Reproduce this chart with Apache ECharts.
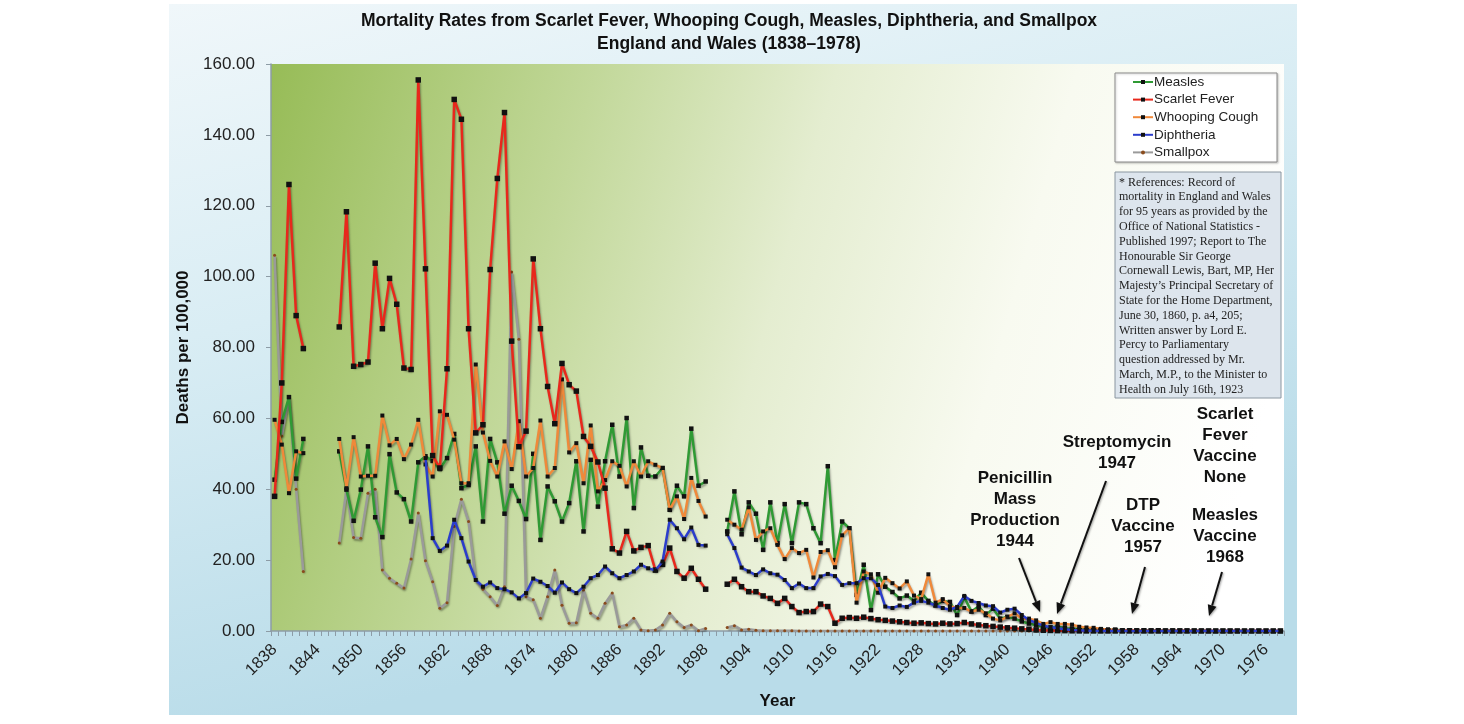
<!DOCTYPE html>
<html>
<head>
<meta charset="utf-8">
<title>Mortality Rates England and Wales</title>
<script src="https://cdn.jsdelivr.net/npm/echarts@6.0.0/dist/echarts.min.js"></script>
<style>
  html, body { margin: 0; padding: 0; background: #ffffff; }
  #chart { width: 1464px; height: 724px; }
</style>
</head>
<body>
<div id="chart"></div>
<script>
// years 1838..1978, one category per year
var years = [];
for (var y = 1838; y <= 1978; y++) years.push(String(y));

var yTicks = [0, 20, 40, 60, 80, 100, 120, 140, 160];

// deaths per 100,000 (null = no record)
var measles = [
  42.7, 59, 66, 43, 54.2,
  null, null, null, null,
  50.7, 39.9, 31.1, 39.9, 52.1, 32.1, 26.5, 49.9, 39.1, 37.2,
  30.9, 47.6, 49.3, 48, 45.7, 48.8, 55.6, 40.3, 41.2, 52.1,
  30.9, 54.2, 47.6, 33.1, 41, 36.7, 31.6, 50, 25.7, 40.8,
  36.6, 30.9, 36.1, 47.9, 28.1, 48.3, 35.1, 47.9, 58.2, 43.6,
  60.1, 34.7, 51.8, 43.8, 43.6, 46, 34.2, 41, 38, 57.1,
  41, 42.2,
  null, null,
  28.1, 39.4, 27.3, 36.3, 33.1, 22.9, 36.3, 24.8, 35.8, 24.8,
  36.3, 35.8, 29, 24.8, 46.5, 20, 30.9, 29, 10.2, 18.7,
  5.9, 16, 12.5, 11, 9.2, 10, 8.5, 10.8, 8.5, 7.2,
  8.5, 8.2, 4.5, 9.5, 5.5, 7, 4.5, 6.3, 3.5, 4,
  3.5, 2.7, 2.1, 1.6, 1.2, 1.0, 1.3, 0.8, 0.7, 0.5,
  0.6, 0.4, 0.5, 0.1, 0.4, 0.1, 0.2, 0.1, 0.2, 0.1,
  0.2, 0.05, 0.1, 0.1, 0.1, 0.05, 0.05, 0.03, 0.02, 0.02,
  0.02, 0.01, 0.01, 0.01, 0.01, 0.01, 0.01, 0.01
];

var scarletFever = [
  38, 70, 126, 89, 79.7,
  null, null, null, null,
  85.8, 118.3, 74.7, 75.2, 75.9, 103.8, 85.3, 99.5, 92.2, 74.2,
  73.8, 155.5, 102.2, 49.5, 46, 74, 150, 144.4, 85.3, 55.9,
  58.2, 102, 127.7, 146.3, 81.8, 52, 56.4, 105, 85.3, 69,
  58.5, 75.5, 69.5, 67.7, 54.9, 52.1, 47.7, 40.3, 23.2, 22,
  28.1, 22.6, 23.6, 24.1, 17.2, 18.8, 23.4, 16.8, 14.9, 17.7,
  14.6, 11.8,
  null, null,
  13.2, 14.6, 12.5, 11.1, 11.1, 9.9, 9.2, 7.8, 9.2, 6.9,
  5.2, 5.5, 5.5, 7.6, 6.9, 2.2, 3.6, 3.8, 3.6, 3.9,
  3.5, 3.2, 3.0, 2.8, 2.6, 2.4, 2.2, 2.3, 2.1, 2.0,
  2.2, 2.0, 2.1, 2.4, 2.0, 1.7, 1.5, 1.3, 1.1, 0.9,
  0.8, 0.6, 0.5, 0.3, 0.2, 0.15, 0.1, 0.1, 0.05, 0.03,
  0.02, 0.02, 0.01, 0.01, 0.01, 0.01, 0.01, 0.01, 0.01, 0.01,
  0, 0, 0, 0, 0, 0, 0, 0, 0, 0,
  0, 0, 0, 0, 0, 0, 0, 0
];

var whoopingCough = [
  59.6, 52.6, 38.9, 50.7, 50.2,
  null, null, null, null,
  54.2, 40.3, 54.7, 43.6, 43.8, 43.8, 60.8, 52.4, 54.2, 48.5,
  52.6, 59.6, 47, 43.6, 62, 61, 54, 41.7, 41.7, 75.2,
  56, 48, 43.6, 53.5, 45.7, 59.2, 43.6, 46, 59.4, 43.6,
  46, 71, 50.4, 53, 41.7, 58, 39.4, 42.6, 47.9, 46.6,
  40.8, 47.9, 43.6, 47.9, 46.9, 46, 34.2, 38, 31.6, 43.2,
  36.7, 32.3,
  null, null,
  31.4, 30, 28.6, 34.9, 25.7, 28.1, 29, 24.3, 20.3, 23.4,
  22, 22.9, 15.1, 22.3, 22.8, 18, 27, 29, 8, 16.8,
  16, 10.8, 15, 13.5, 12, 14, 10, 9, 16, 8,
  9, 7, 6.5, 6.5, 5.5, 6, 5, 3.5, 3, 4,
  5, 3.5, 3.5, 3, 2, 2.5, 2, 2, 1.8, 1.2,
  1, 0.9, 0.6, 0.5, 0.3, 0.2, 0.2, 0.2, 0.1, 0.1,
  0.1, 0.1, 0.1, 0.05, 0.05, 0.05, 0.05, 0.02, 0.02, 0.02,
  0.02, 0.02, 0.01, 0.01, 0.01, 0.01, 0.01, 0.01
];

var diphtheria = [
  null, null, null, null, null,
  null, null, null, null,
  null, null, null, null, null, null, null, null, null, null,
  null, null, 48.8, 26.2, 22.6, 24.1, 31.4, 26.2, 19.6, 14.4,
  12.5, 13.7, 12.1, 11.8, 10.9, 9.2, 10.7, 14.8, 13.9, 12.7,
  10.8, 13.7, 11.8, 10.7, 12.5, 14.9, 15.8, 18.2, 16.3, 14.9,
  15.8, 16.8, 18.7, 17.7, 17.1, 19.6, 31.4, 29, 25.9, 29.2,
  24.3, 24.1,
  null, null,
  27.3, 23.4, 17.9, 16.8, 15.8, 17.4, 16.3, 15.9, 14.4, 12.1,
  13.4, 12.1, 12.1, 15.4, 16.1, 15.5, 13, 13.5, 13.5, 14.9,
  14.9, 13, 6.9, 6.5, 7.2, 6.8, 8, 8.5, 8, 7.2,
  6.5, 6, 6.8, 9.9, 8.5, 7.9, 7.2, 7, 5.2, 6,
  6.3, 4.5, 3.1, 2.3, 1.5, 1.1, 0.8, 0.5, 0.3, 0.2,
  0.1, 0.05, 0.03, 0.02, 0.01, 0.01, 0.01, 0.01, 0.01, 0.01,
  0, 0, 0, 0, 0, 0, 0, 0, 0, 0,
  0, 0, 0, 0, 0, 0, 0, 0
];

var smallpox = [
  106, 55, 66, 40, 16.8,
  null, null, null, null,
  24.8, 39.9, 26.4, 26.2, 38.9, 40, 17.2, 14.9, 13.5, 12.1,
  20.3, 33.3, 19.8, 13.9, 6.4, 8, 29.5, 37.2, 30.9, 14.4,
  11.8, 9.7, 7.2, 12.5, 101.3, 82.3, 9.7, 8.8, 3.6, 9.7,
  17.2, 7.3, 2.2, 2.3, 11.6, 5, 3.6, 7.8, 10.7, 1.2,
  1.7, 3.6, 0.3, 0.1, 0.3, 1.7, 5, 2.6, 1, 1.7,
  0.1, 0.7,
  null, null,
  1, 1.5, 0.3, 0.5, 0.2, 0.1, 0.05, 0.05, 0.05, 0.05,
  0, 0, 0, 0, 0, 0, 0, 0, 0, 0,
  0, 0, 0, 0, 0, 0, 0, 0, 0, 0,
  0, 0, 0, 0, 0, 0, 0, 0, 0, 0,
  0, 0, 0, 0, 0, 0, 0, 0, 0, 0,
  0, 0, 0, 0, 0, 0, 0, 0, 0, 0,
  0, 0, 0, 0, 0, 0, 0, 0, 0, 0,
  0, 0, 0, 0, 0, 0, 0, 0
];

var legendNames = ['Measles', 'Scarlet Fever', 'Whooping Cough', 'Diphtheria', 'Smallpox'];

var refText = [
  '* References: Record of',
  'mortality in England and Wales',
  'for 95 years as provided by the',
  'Office of National Statistics -',
  'Published 1997; Report to The',
  'Honourable Sir George',
  'Cornewall Lewis, Bart, MP, Her',
  'Majesty\u2019s Principal Secretary of',
  'State for the Home Department,',
  'June 30, 1860, p. a4, 205;',
  'Written answer by Lord E.',
  'Percy to Parliamentary',
  'question addressed by Mr.',
  'March, M.P., to the Minister to',
  'Health on July 16th, 1923'
].join('\n');

var FONT = '"Liberation Sans", Arial, sans-serif';

function arrow(x1, y1, x2, y2) {
  var a = Math.atan2(y2 - y1, x2 - x1);
  var L = 11, W = 4.5;
  var bx = x2 - L * Math.cos(a), by = y2 - L * Math.sin(a);
  var px = -Math.sin(a) * W, py = Math.cos(a) * W;
  var sh = { shadowColor: 'rgba(0,0,0,0.35)', shadowBlur: 2, shadowOffsetX: 1, shadowOffsetY: 1 };
  return [
    { type: 'line', z: 20, shape: { x1: x1, y1: y1, x2: bx, y2: by },
      style: Object.assign({ stroke: '#111', lineWidth: 2 }, sh) },
    { type: 'polygon', z: 20, shape: { points: [[x2, y2], [bx + px, by + py], [bx - px, by - py]] },
      style: Object.assign({ fill: '#111' }, sh) }
  ];
}

function note(x, y, txt) {
  return { type: 'text', z: 20, x: x, y: y,
    style: { text: txt, font: 'bold 17px ' + FONT, fill: '#111',
             textAlign: 'center', textVerticalAlign: 'top', lineHeight: 21 } };
}

function lineSeries(name, data, color, sym, size, markColor, z) {
  return {
    name: name, type: 'line', data: data, z: z,
    connectNulls: false,
    symbol: sym, symbolSize: size, showAllSymbol: true,
    lineStyle: { color: color, width: 2.5,
      shadowColor: 'rgba(0,0,0,0.35)', shadowBlur: 2, shadowOffsetX: 1, shadowOffsetY: 2 },
    itemStyle: { color: markColor },
    emphasis: { disabled: true }
  };
}

var chart = echarts.init(document.getElementById('chart'), null, { renderer: 'canvas' });

var option = {
  animation: false,
  grid: {
    left: 271, top: 64, right: 180, bottom: 93,
    show: true, borderWidth: 0,
    backgroundColor: {
      type: 'linear', x: 0, y: 0, x2: 1, y2: 0.5,
      colorStops: [
        { offset: 0, color: '#97bc57' },
        { offset: 0.3, color: '#c2d89a' },
        { offset: 0.52, color: '#e4edd0' },
        { offset: 0.74, color: '#f8faf0' },
        { offset: 1, color: '#ffffff' }
      ]
    }
  },
  legend: {
    data: legendNames,
    orient: 'vertical',
    left: 1132, top: 75,
    itemWidth: 20, itemHeight: 5, itemGap: 3.6,
    padding: 0,
    textStyle: { fontFamily: FONT, fontSize: 13.5, color: '#222', padding: [0, 0, 0, -4] },
    z: 30
  },
  xAxis: {
    type: 'category',
    data: years,
    boundaryGap: true,
    name: 'Year', nameLocation: 'middle', nameGap: 62,
    nameTextStyle: { fontFamily: FONT, fontSize: 17, fontWeight: 'bold', color: '#111' },
    axisLine: { lineStyle: { color: '#8d9ca6', width: 1.5 } },
    axisTick: { show: true, interval: 0, length: 5, lineStyle: { color: '#8d9ca6' } },
    axisLabel: { interval: 5, rotate: 45, fontFamily: FONT, fontSize: 16.5, color: '#222', margin: 16 },
    splitLine: { show: false }
  },
  yAxis: {
    type: 'value',
    min: yTicks[0], max: yTicks[yTicks.length - 1], interval: 20,
    name: 'Deaths per 100,000', nameLocation: 'middle', nameGap: 77, nameRotate: 90,
    nameTextStyle: { fontFamily: FONT, fontSize: 17, fontWeight: 'bold', color: '#111' },
    axisLine: { show: true, lineStyle: { color: '#8d9ca6', width: 1.5 } },
    axisTick: { show: true, length: 5, lineStyle: { color: '#8d9ca6' } },
    axisLabel: { fontFamily: FONT, fontSize: 17, color: '#222', margin: 16,
      formatter: function (v) { return v.toFixed(2); } },
    splitLine: { show: false }
  },
  series: [
    lineSeries('Smallpox', smallpox, '#9a9a9a', 'circle', 3, '#8a4b1c', 2),
    lineSeries('Measles', measles, '#2f9a34', 'rect', 4.5, '#111', 3),
    lineSeries('Whooping Cough', whoopingCough, '#f0893a', 'rect', 4, '#111', 4),
    lineSeries('Scarlet Fever', scarletFever, '#e8281c', 'rect', 5.5, '#111', 5),
    lineSeries('Diphtheria', diphtheria, '#2b3dcc', 'rect', 4, '#111', 6)
  ],
  graphic: {
    elements: [
      { type: 'rect', z: -10, silent: true,
        shape: { x: 169, y: 4, width: 1128, height: 711 },
        style: { fill: { type: 'linear', x: 0, y: 0, x2: 0.15, y2: 1,
          colorStops: [
            { offset: 0, color: '#f0f7fa' },
            { offset: 0.45, color: '#d9edf4' },
            { offset: 1, color: '#b9dce9' }
          ] } } },
      { type: 'text', z: 20, x: 729, y: 10,
        style: { text: 'Mortality Rates from Scarlet Fever, Whooping Cough, Measles, Diphtheria, and Smallpox\nEngland and Wales (1838\u20131978)',
          font: 'bold 17.5px ' + FONT, fill: '#111', textAlign: 'center', lineHeight: 23 } },
      { type: 'rect', z: 25, silent: true,
        shape: { x: 1115, y: 73, width: 162, height: 89 },
        style: { fill: '#ffffff', stroke: '#8a8a8a', lineWidth: 1,
          shadowColor: 'rgba(0,0,0,0.2)', shadowBlur: 2, shadowOffsetX: 1, shadowOffsetY: 1 } },
      { type: 'rect', z: 25, silent: true,
        shape: { x: 1115, y: 172, width: 166, height: 226 },
        style: { fill: '#dde5ed', stroke: '#8a96a0', lineWidth: 1 } },
      { type: 'text', z: 26, x: 1119, y: 175,
        style: { text: refText, font: '12px "Liberation Serif", "DejaVu Serif", serif',
          fill: '#222', lineHeight: 14.8 } },
      note(1015, 468, 'Penicillin\nMass\nProduction\n1944'),
      note(1117, 432, 'Streptomycin\n1947'),
      note(1143, 495, 'DTP\nVaccine\n1957'),
      note(1225, 404, 'Scarlet\nFever\nVaccine\nNone'),
      note(1225, 505, 'Measles\nVaccine\n1968')
    ]
      .concat(arrow(1019, 558, 1040, 612))
      .concat(arrow(1106, 481, 1057, 614))
      .concat(arrow(1145, 567, 1132, 614))
      .concat(arrow(1222, 572, 1209, 616))
  }
};

chart.setOption(option);
</script>
</body>
</html>
